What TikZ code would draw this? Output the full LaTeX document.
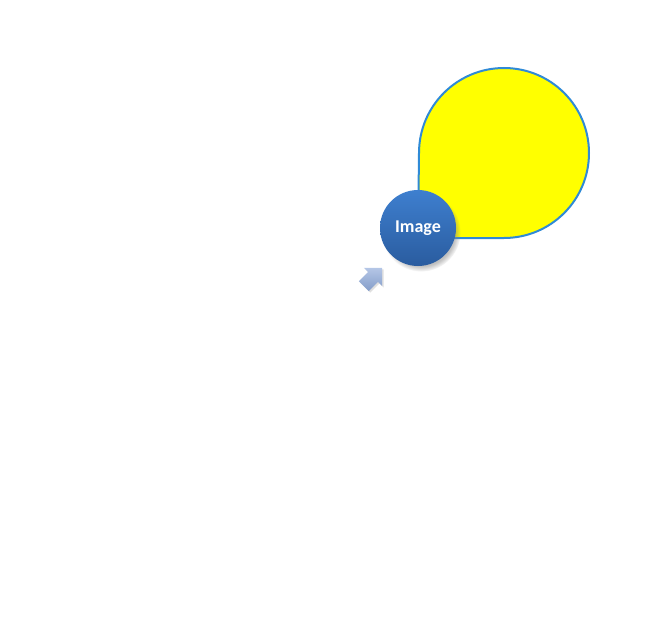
\documentclass[tikz,border=0pt]{standalone}
\usepackage{fontspec}
\setmainfont{Carlito}
\usetikzlibrary{shadows}
\definecolor{dropblue}{HTML}{2F8AD6}
\definecolor{dropfill}{HTML}{FFFF00}
\definecolor{ballTop}{HTML}{3E7FCF}
\definecolor{ballBot}{HTML}{2A5C9F}
\definecolor{arrTop}{HTML}{B4C6E6}
\definecolor{arrBot}{HTML}{859DC9}
\tikzset{
  drop/.style={draw=dropblue, line width=2pt, fill=dropfill, line join=round},
  ball/.style={circle, minimum size=76pt, inner sep=0pt, top color=ballTop, bottom color=ballBot,
    text=white, font=\fontsize{18}{20}\selectfont\bfseries,
    circular drop shadow={shadow xshift=3pt, shadow yshift=-4pt, shadow scale=1.04, opacity=0.5}},
  arr/.style={top color=arrTop, bottom color=arrBot, draw=none,
    drop shadow={shadow xshift=1.5pt, shadow yshift=-1.5pt, opacity=0.25}}
}
\begin{document}
\begin{tikzpicture}[x=1pt,y=-1pt]
\useasboundingbox (0,0) rectangle (654,642);
% teardrop
\coordinate (corner) at (418,238);
\draw[drop] (corner) -- (419,153) arc[start angle=180, end angle=450, radius=85] -- cycle;
% arrow
\begin{scope}[shift={(373,277)}, rotate=45]
\path[arr] (-13,-7) -- (0,-7) -- (0,-13) -- (13,0) -- (0,13) -- (0,7) -- (-13,7) -- cycle;
\end{scope}
% ball
\node[ball] (img) at (418,228) {\raisebox{-1pt}{Image}};
\end{tikzpicture}
\end{document}
